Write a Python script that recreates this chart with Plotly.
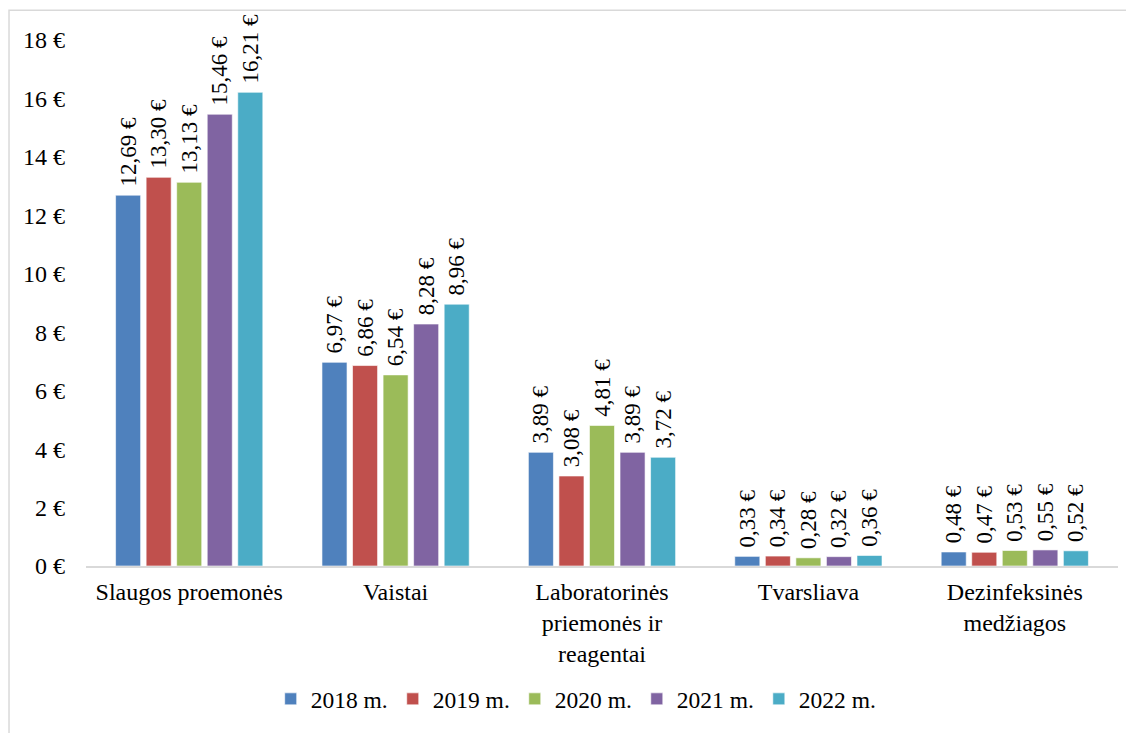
import plotly.graph_objects as go

# kategorijos ir metinės reikšmės (€)
categories = [
    "Slaugos proemonės",
    "Vaistai",
    "Laboratorinės<br>priemonės ir<br>reagentai",
    "Tvarsliava",
    "Dezinfeksinės<br>medžiagos",
]
years = ["2018 m.", "2019 m.", "2020 m.", "2021 m.", "2022 m."]

v2018 = [12.69, 6.97, 3.89, 0.33, 0.48]
v2019 = [13.30, 6.86, 3.08, 0.34, 0.47]
v2020 = [13.13, 6.54, 4.81, 0.28, 0.53]
v2021 = [15.46, 8.28, 3.89, 0.32, 0.55]
v2022 = [16.21, 8.96, 3.72, 0.36, 0.52]

series = [v2018, v2019, v2020, v2021, v2022]
colors = ["#4F81BD", "#C0504D", "#9BBB59", "#8064A2", "#4BACC6"]

y_ticks = list(range(0, 19, 2))
y_tick_text = [f"{t} €" for t in y_ticks]

FONT = "Liberation Serif, Times New Roman, serif"
FS = 24

fig = go.Figure()
for name, vals, col in zip(years, series, colors):
    fig.add_trace(go.Bar(
        x=categories,
        y=vals,
        name=name,
        marker=dict(color=col, line=dict(color="rgba(255,255,255,0.6)", width=1)),
        # nbsp priekyje - šiek tiek atitraukia etiketę nuo stulpelio
        text=["\u00a0" + f"{v:.2f}".replace(".", ",") + " €" for v in vals],
        textposition="outside",
        textangle=-90,
        constraintext="none",
        cliponaxis=False,
        textfont=dict(family=FONT, size=FS - 1, color="black"),
    ))

# puslapio body turi ~8px paraštę, todėl figūra šiek tiek mažesnė
fig.update_layout(
    width=1126,
    height=725,
    barmode="group",
    bargap=0.26,
    bargroupgap=0.18,
    plot_bgcolor="white",
    paper_bgcolor="white",
    font=dict(family=FONT, size=FS, color="black"),
    margin=dict(l=78, r=16, t=32, b=164),
    showlegend=True,
    legend=dict(
        orientation="h",
        x=0.475, xanchor="center",
        y=-0.253, yanchor="middle",
        font=dict(family=FONT, size=FS - 0.5),
        itemwidth=30,
        traceorder="normal",
    ),
    xaxis=dict(
        showline=True, linecolor="#D9D9D9", linewidth=2,
        showgrid=False, ticks="", ticklabelstandoff=3,
        automargin=False,
    ),
    yaxis=dict(
        range=[0, 18],
        tickvals=y_ticks,
        ticktext=y_tick_text,
        showgrid=False, zeroline=False, showline=False,
        ticks="", ticklabelstandoff=20,
        automargin=False,
    ),
    shapes=[dict(
        type="rect", xref="paper", yref="paper",
        x0=-0.0746, x1=1.0145, y0=-0.33, y1=1.0567,
        line=dict(color="#D9D9D9", width=1.5),
        fillcolor="rgba(0,0,0,0)", layer="below",
    )],
)

fig.write_html("out.html")
